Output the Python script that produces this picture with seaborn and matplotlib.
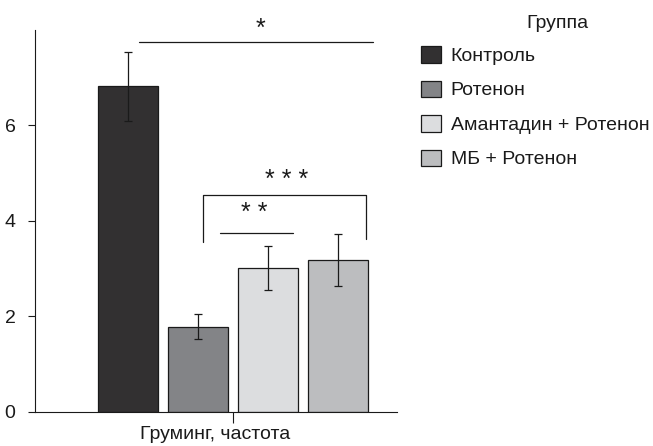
import matplotlib
matplotlib.use("Agg")
import matplotlib.pyplot as plt
import matplotlib.transforms as mtransforms
import seaborn as sns
import pandas as pd
from matplotlib.patches import Patch

# ---- data ----
metric = ["Груминг, частота"]
groups = ["Контроль", "Ротенон", "Амантадин + Ротенон", "МБ + Ротенон"]
means = [6.81, 1.78, 3.02, 3.18]
errs = [0.72, 0.26, 0.46, 0.54]
colors = ["#323031", "#838487", "#dcdddf", "#bcbdbf"]
yticks = [0, 2, 4, 6]

df = pd.DataFrame({"metric": metric * len(groups), "group": groups, "value": means})

sns.set_style("ticks")
plt.rcParams["font.family"] = ["Liberation Sans", "DejaVu Sans"]

fig = plt.figure(figsize=(6.53, 4.46), dpi=100)
W, H = 653, 446
ax = fig.add_axes([35 / W, (H - 412) / H, (397 - 35) / W, (412 - 29.6) / H])

sns.barplot(data=df, x="metric", y="value", hue="group", hue_order=groups,
            palette=colors, errorbar=None, edgecolor="#1a1a1a", linewidth=0.9,
            gap=0.15, ax=ax, legend=False)

# error bars from patch centers
bars = [p for p in ax.patches if p.get_height() > 0]
bars.sort(key=lambda p: p.get_x())
xs = [p.get_x() + p.get_width() / 2 for p in bars]
ax.errorbar(xs, means, yerr=errs, fmt="none", ecolor="#1a1a1a",
            elinewidth=0.9, capsize=3, capthick=0.9)

ax.set_xlim(-0.566, 0.469)
ax.set_ylim(0, 8)
ax.set_yticks(yticks)
ax.set_xlabel("")
ax.set_ylabel("")
ax.tick_params(axis="y", labelsize=14, length=5, width=0.8, pad=9, color="#1a1a1a",
               labelcolor="#1a1a1a")
ax.tick_params(axis="x", labelsize=14, length=8, width=0.8, pad=2, color="#1a1a1a",
               labelcolor="#1a1a1a")
offset = mtransforms.ScaledTranslation(-18 / 100, 0, fig.dpi_scale_trans)
for lab in ax.get_xticklabels():
    lab.set_transform(lab.get_transform() + offset)
for s in ["top", "right"]:
    ax.spines[s].set_visible(False)
for s in ["left", "bottom"]:
    ax.spines[s].set_linewidth(0.8)
    ax.spines[s].set_color("#1a1a1a")

lc = "#1a1a1a"
# significance annotations
ax.plot([-0.27, 0.40], [7.75, 7.75], color=lc, lw=0.9, clip_on=False)
ax.text(0.079, 7.77, "*", ha="center", va="bottom", fontsize=18, color=lc)
ax.plot([-0.087, -0.087, 0.379, 0.379], [3.56, 4.53, 4.53, 3.61], color=lc, lw=0.9)
ax.text(0.153, 4.61, "* * *", ha="center", va="bottom", fontsize=18, color=lc)
ax.plot([-0.037, 0.171], [3.74, 3.74], color=lc, lw=0.9)
ax.text(0.061, 3.91, "* *", ha="center", va="bottom", fontsize=18, color=lc)

# legend
handles = [Patch(facecolor=c, edgecolor="#1a1a1a", linewidth=0.9) for c in colors]
fig.legend(handles, groups, loc="upper left", bbox_to_anchor=(421 / W, 1 - 46 / H),
           frameon=False, fontsize=14, handlelength=1.03, handleheight=0.93,
           handletextpad=0.5, labelspacing=0.8, borderpad=0, borderaxespad=0,
           labelcolor="#1a1a1a")
fig.text(557 / W, 1 - 23 / H, "Группа", ha="center", va="center", fontsize=14, color="#1a1a1a")

fig.savefig("out.png", dpi=100)
